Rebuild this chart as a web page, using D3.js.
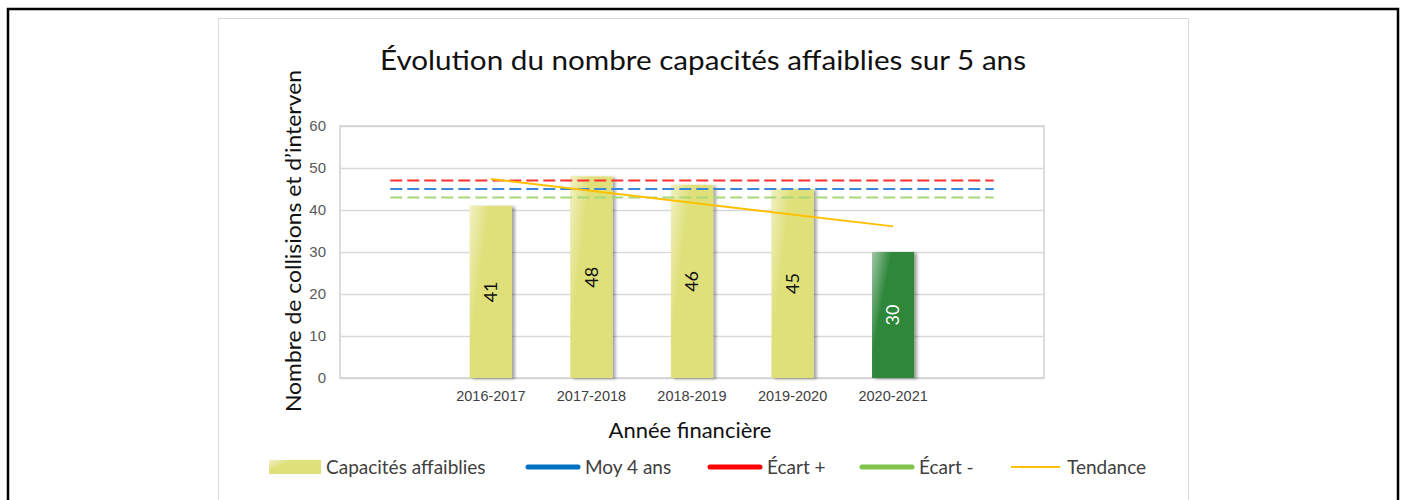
<!DOCTYPE html>
<html>
<head>
<meta charset="utf-8">
<script src="https://cdn.jsdelivr.net/npm/d3@7"></script>
<style>
body { margin: 0; background: #fff; }
svg { display: block; font-family: Lato, "Open Sans", sans-serif; }
</style>
</head>
<body>
<div id="chart"></div>
<script>
// data
var annees = ["2016-2017", "2017-2018", "2018-2019", "2019-2020", "2020-2021"];
var capacites = [41, 48, 46, 45, 30];
var moy4ans = 45;
var ecartPlus = 47;
var ecartMoins = 43;
var tendance = [{ annee: "2016-2017", v: 47.4 }, { annee: "2020-2021", v: 36.1 }];
var yTicks = [0, 10, 20, 30, 40, 50, 60];

var width = 1404, height = 500;
var margin = { top: 126, left: 340, right: 360, bottom: 122 };
var plotW = width - margin.left - margin.right;
var plotH = height - margin.top - margin.bottom;

var svg = d3.select("#chart").append("svg")
    .attr("width", width)
    .attr("height", height);

var defs = svg.append("defs");
var shadow = defs.append("filter").attr("id", "ombre")
    .attr("x", "-20%").attr("y", "-10%").attr("width", "160%").attr("height", "130%");
shadow.append("feDropShadow")
    .attr("dx", 3).attr("dy", 1).attr("stdDeviation", 1.5)
    .attr("flood-color", "#000").attr("flood-opacity", 0.35);

var reflet = defs.append("linearGradient").attr("id", "reflet")
    .attr("x1", 0).attr("y1", 0).attr("x2", 0.9).attr("y2", 0.5);
reflet.append("stop").attr("offset", "0%").attr("stop-color", "#fff").attr("stop-opacity", 0.55);
reflet.append("stop").attr("offset", "40%").attr("stop-color", "#fff").attr("stop-opacity", 0);

// cadres
svg.append("rect")
    .attr("x", 8).attr("y", 9).attr("width", 1390).attr("height", 520)
    .attr("fill", "none").attr("stroke", "#000").attr("stroke-width", 2.5);
svg.append("rect")
    .attr("x", 218.5).attr("y", 18.5).attr("width", 970).attr("height", 500)
    .attr("fill", "none").attr("stroke", "#d9d9d9").attr("stroke-width", 1);

var g = svg.append("g")
    .attr("transform", "translate(" + margin.left + "," + margin.top + ")");

// scales
var cats = ["_debut"].concat(annees, ["_fin"]);
var x = d3.scaleBand().domain(cats).range([0, plotW]).padding(0);
var y = d3.scaleLinear().domain([0, 60]).range([plotH, 0]);
var cx = function(d) { return x(d) + x.bandwidth() / 2; };
var barW = x.bandwidth() * 0.42;

// grille
g.append("g")
    .attr("class", "grid")
    .call(d3.axisLeft(y).tickValues(yTicks).tickSize(-plotW).tickFormat(""))
    .call(function(s) {
        s.select(".domain").remove();
        s.selectAll("line").attr("stroke", "#d9d9d9").attr("stroke-width", 1.5);
    });
g.append("rect")
    .attr("width", plotW).attr("height", plotH)
    .attr("fill", "none").attr("stroke", "#d0d0d0").attr("stroke-width", 1.5);

// axes
g.append("g")
    .call(d3.axisLeft(y).tickValues(yTicks).tickSize(0).tickPadding(14))
    .call(function(s) {
        s.select(".domain").remove();
        s.selectAll("text").attr("fill", "#595959").style("font-size", "15px");
    });
g.append("g")
    .attr("transform", "translate(0," + plotH + ")")
    .call(d3.axisBottom(x).tickSize(0).tickPadding(13)
        .tickFormat(function(d) { return annees.indexOf(d) >= 0 ? d : ""; }))
    .call(function(s) {
        s.select(".domain").remove();
        s.selectAll("text").attr("fill", "#404040").style("font-size", "14.5px");
    });

// barres
var data = annees.map(function(a, i) { return { annee: a, v: capacites[i], last: i === annees.length - 1 }; });
var bars = g.selectAll(".bar").data(data).enter().append("g").attr("class", "bar");
bars.append("rect")
    .attr("x", function(d) { return cx(d.annee) - barW / 2; })
    .attr("y", function(d) { return y(d.v); })
    .attr("width", barW)
    .attr("height", function(d) { return plotH - y(d.v); })
    .attr("fill", function(d) { return d.last ? "#2e873b" : "#dfe07a"; })
    .attr("filter", "url(#ombre)");
bars.append("rect")
    .attr("x", function(d) { return cx(d.annee) - barW / 2; })
    .attr("y", function(d) { return y(d.v); })
    .attr("width", barW)
    .attr("height", function(d) { return plotH - y(d.v); })
    .attr("fill", "url(#reflet)");
bars.append("text")
    .attr("transform", function(d) {
        return "translate(" + cx(d.annee) + "," + (y(d.v) + plotH) / 2 + ") rotate(-90)";
    })
    .attr("text-anchor", "middle")
    .attr("dy", "0.35em")
    .attr("fill", function(d) { return d.last ? "#fff" : "#111"; })
    .style("font-size", "18px")
    .text(function(d) { return d.v; });

// lignes de reference
var refs = [
    { v: ecartPlus, c: "#ff3030" },
    { v: moy4ans, c: "#3a86d8" },
    { v: ecartMoins, c: "#a8d878" }
];
g.selectAll(".ref").data(refs).enter().append("line")
    .attr("class", "ref")
    .attr("x1", cx("_debut")).attr("x2", cx("_fin"))
    .attr("y1", function(d) { return y(d.v); })
    .attr("y2", function(d) { return y(d.v); })
    .attr("stroke", function(d) { return d.c; })
    .attr("stroke-width", 2)
    .attr("stroke-dasharray", "12,5");

// tendance
g.append("path")
    .datum(tendance)
    .attr("fill", "none")
    .attr("stroke", "#ffc000")
    .attr("stroke-width", 2)
    .attr("d", d3.line().x(function(d) { return cx(d.annee); }).y(function(d) { return y(d.v); }));

// titres
svg.append("text")
    .attr("x", 703).attr("y", 70)
    .attr("text-anchor", "middle")
    .attr("fill", "#111")
    .style("font-size", "27px")
    .attr("textLength", 646).attr("lengthAdjust", "spacingAndGlyphs")
    .text("Évolution du nombre capacités affaiblies sur 5 ans");
svg.append("text")
    .attr("transform", "translate(301,241) rotate(-90)")
    .attr("text-anchor", "middle")
    .attr("fill", "#111")
    .style("font-size", "21px")
    .attr("textLength", 342).attr("lengthAdjust", "spacingAndGlyphs")
    .text("Nombre de collisions et d’interven");
svg.append("text")
    .attr("x", 690).attr("y", 438)
    .attr("text-anchor", "middle")
    .attr("fill", "#111")
    .style("font-size", "22px")
    .text("Année financière");

// legende
var legende = [
    { label: "Capacités affaiblies", type: "barre", c: "#dfe07a", x0: 269, x1: 321 },
    { label: "Moy 4 ans", type: "ligne", c: "#0070c0", x0: 526, x1: 580 },
    { label: "Écart +", type: "ligne", c: "#ff0000", x0: 708, x1: 762 },
    { label: "Écart -", type: "ligne", c: "#7fc44a", x0: 860, x1: 914 },
    { label: "Tendance", type: "fine", c: "#ffc000", x0: 1009, x1: 1062 }
];
var ly = 467;
var leg = svg.selectAll(".leg").data(legende).enter().append("g").attr("class", "leg");
leg.filter(function(d) { return d.type === "barre"; }).append("rect")
    .attr("x", function(d) { return d.x0; }).attr("y", ly - 7)
    .attr("width", function(d) { return d.x1 - d.x0; }).attr("height", 14)
    .attr("fill", function(d) { return d.c; });
leg.filter(function(d) { return d.type === "barre"; }).append("rect")
    .attr("x", function(d) { return d.x0; }).attr("y", ly - 7)
    .attr("width", function(d) { return d.x1 - d.x0; }).attr("height", 14)
    .attr("fill", "url(#reflet)");
leg.filter(function(d) { return d.type !== "barre"; }).append("line")
    .attr("x1", function(d) { return d.x0 + 2; }).attr("x2", function(d) { return d.x1 - 2; })
    .attr("y1", ly).attr("y2", ly)
    .attr("stroke", function(d) { return d.c; })
    .attr("stroke-width", function(d) { return d.type === "fine" ? 2 : 5; })
    .attr("stroke-linecap", function(d) { return d.type === "fine" ? "butt" : "round"; });
leg.append("text")
    .attr("x", function(d) { return d.x1 + 5; })
    .attr("y", ly)
    .attr("dy", "0.35em")
    .attr("fill", "#404040")
    .style("font-size", "19px")
    .text(function(d) { return d.label; });
</script>
</body>
</html>
